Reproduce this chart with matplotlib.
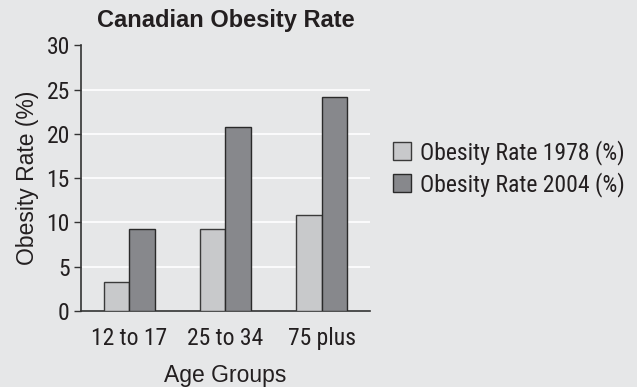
import matplotlib
matplotlib.use("Agg")
import matplotlib.pyplot as plt
import numpy as np

categories = ["12 to 17", "25 to 34", "75 plus"]
rate_1978 = [3.2, 9.2, 10.8]
rate_2004 = [9.2, 20.8, 24.2]
series_labels = ["Obesity Rate 1978 (%)", "Obesity Rate 2004 (%)"]
yticks = [0, 5, 10, 15, 20, 25, 30]

narrow = ["Roboto Condensed", "DejaVu Sans"]
regular = ["Liberation Sans", "DejaVu Sans"]
txt_color = "#231f20"

bg = "#e6e7e8"
fig = plt.figure(figsize=(6.37, 3.87), dpi=100, facecolor=bg)
ax = fig.add_axes([0.127, 0.197, 0.454, 0.686], facecolor=bg)

x = np.arange(len(categories))
w = 0.265
ax.bar(x - w / 2, rate_1978, w, color="#c8c9cb", edgecolor="#3a3a3a", linewidth=1.0,
       label=series_labels[0], zorder=3)
ax.bar(x + w / 2, rate_2004, w, color="#87888c", edgecolor="#2a2a2a", linewidth=1.0,
       label=series_labels[1], zorder=3)

for y in yticks[1:-1]:
    ax.axhline(y, color="white", linewidth=1.2, zorder=1)

ax.set_xlim(-0.5, 2.5)
ax.set_ylim(0, 30)
ax.set_yticks(yticks)
ax.set_yticklabels([str(v) for v in yticks], family=narrow, fontsize=17, color=txt_color)
ax.set_xticks(x)
ax.set_xticklabels(categories, family=narrow, fontsize=17, color=txt_color)
ax.tick_params(axis="x", length=0, pad=12)
ax.tick_params(axis="y", length=5, width=1, color="#333333", pad=3, direction="out")

for s in ["top", "right"]:
    ax.spines[s].set_visible(False)
for s in ["left", "bottom"]:
    ax.spines[s].set_color("#333333")
    ax.spines[s].set_linewidth(1.2)

ax.set_xlabel("Age Groups", family=regular, fontsize=16.5, color=txt_color, labelpad=10)
ax.set_ylabel("Obesity Rate (%)", family=regular, fontsize=16.5, color=txt_color, labelpad=5)
ax.set_title("Canadian Obesity Rate", family=regular, fontsize=17, fontweight="bold",
             color=txt_color, pad=13)

leg = fig.legend(loc="center left", bbox_to_anchor=(0.617, 0.565), frameon=False,
                 prop={"family": narrow, "size": 17}, handlelength=0.75, handleheight=0.75,
                 handletextpad=0.4, labelspacing=0.3, borderaxespad=0, borderpad=0)
for t in leg.get_texts():
    t.set_color(txt_color)

fig.savefig("out.png", dpi=100, facecolor=bg)
